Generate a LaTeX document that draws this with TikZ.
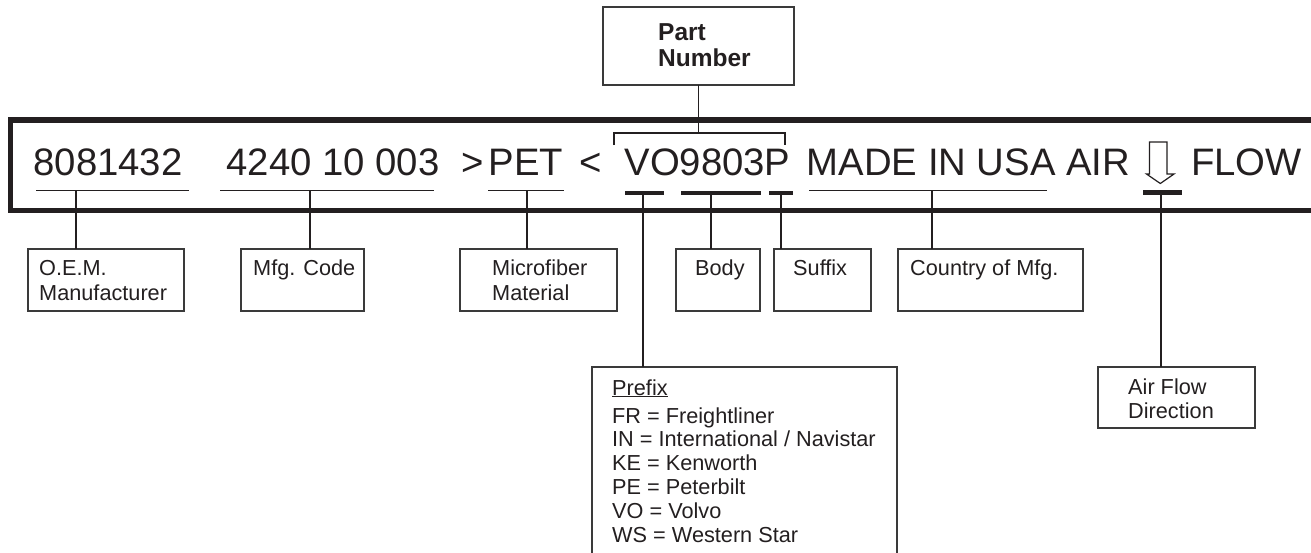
\documentclass[tikz,border=0pt]{standalone}
\usepackage{fontspec}
\setmainfont{Liberation Sans}
\definecolor{ink}{HTML}{231F20}
\definecolor{boxgray}{HTML}{3A3A3A}
\begin{document}
\begin{tikzpicture}[x=1pt,y=-1pt,
  box/.style={draw=boxgray,line width=1.3pt,inner sep=0pt,outer sep=0pt},
  lbl/.style={anchor=base west,inner sep=0pt,text=ink,font=\fontsize{21.7}{25}\selectfont},
  big/.style={anchor=base,inner sep=0pt,text=ink,font=\fontsize{38.3}{40}\selectfont},
  bold/.style={anchor=base west,inner sep=0pt,text=ink,font=\fontsize{24.5}{27}\selectfont\bfseries},
  band/.style={draw=ink,line width=5.3pt,line join=miter},
  uline/.style={draw=ink,line width=1pt},
  bar/.style={draw=ink,line width=4.4pt},
  conn/.style={draw=ink,line width=1.3pt}]
\useasboundingbox (0,0) rectangle (1311,552);

% main band
\draw[band] (1325,120) -- (10.8,120) -- (10.8,210.2) -- (1325,210.2);

% part number box
\node[box,minimum width=191pt,minimum height=78pt] (pn) at (698.5,46) {};
\node[bold] (pnA) at (658,40) {Part};
\node[bold] (pnB) at (658,66.7) {Number};
\coordinate (brkL) at (614,145);
\coordinate (brkR) at (785,145);
\coordinate (brkM) at (698.5,133);
\draw[conn] (brkL) -- (brkL |- brkM) -- (brkR |- brkM) -- (brkR);
\draw[conn] (pn.south) -- (brkM);

% band texts
\node[big] (t1) at (108,175) {8081432};
\node[big] (t2) at (333,175) {4240 10 003};
\node[big] (t3) at (473,175) {>};
\node[big] (t4) at (526,175) {PET};
\node[big] (t5) at (591,175) {<};
\node[big] (t6) at (707.5,175) {VO9803P};
\node[big] (t7) at (968.5,175) {MADE IN USA AIR};
\node[big] (t8) at (1246.5,175) {FLOW};

% hollow arrow
\draw[draw=ink,line width=1.2pt,line join=miter,fill=white]
  (1149.5,142) -- (1167,142) -- (1167,174) -- (1174,174) -- (1160.3,183.5)
  -- (1146.5,174) -- (1149.5,174) -- cycle;

% underlines and bars
\draw[uline] (36,190.7) -- (189,190.7);
\draw[uline] (220,190.7) -- (434,190.7);
\draw[uline] (488,190.7) -- (564,190.7);
\draw[uline] (809,190.7) -- (1047,190.7);
\draw[bar] (625,192.8) -- (664,192.8);
\draw[bar] (681,192.8) -- (761,192.8);
\draw[bar] (769,192.8) -- (793,192.8);
\draw[bar] (1143,192.3) -- (1182,192.3);

% boxes
\node[box,minimum width=156pt,minimum height=62pt] (oem) at (106,280) {};
\node[box,minimum width=123pt,minimum height=62pt] (mfg) at (302.5,280) {};
\node[box,minimum width=157pt,minimum height=62pt] (micro) at (538.5,280) {};
\node[box,minimum width=84pt,minimum height=62pt] (body) at (718,280) {};
\node[box,minimum width=97pt,minimum height=62pt] (suffix) at (822.5,280) {};
\node[box,minimum width=185pt,minimum height=62pt] (country) at (990.5,280) {};
\node[box,minimum width=157pt,minimum height=61pt] (air) at (1176.5,397.5) {};
\node[box,minimum width=305pt,minimum height=200pt] (prefix) at (744.5,467) {};

% stems
\coordinate (s1) at (76,190.7);
\coordinate (s2) at (310,190.7);
\coordinate (s3) at (527,190.7);
\coordinate (s4) at (643,194);
\coordinate (s5) at (711,194);
\coordinate (s6) at (781,194);
\coordinate (s7) at (932,190.7);
\coordinate (s8) at (1161,194);
\draw[conn] (s1) -- (s1 |- oem.north);
\draw[conn] (s2) -- (s2 |- mfg.north);
\draw[conn] (s3) -- (s3 |- micro.north);
\draw[conn] (s4) -- (s4 |- prefix.north);
\draw[conn] (s5) -- (s5 |- body.north);
\draw[conn] (s6) -- (s6 |- suffix.north);
\draw[conn] (s7) -- (s7 |- country.north);
\draw[conn] (s8) -- (s8 |- air.north);

% box labels
\node[lbl] (l1a) at (39,275) {O.E.M.};
\node[lbl] (l1b) at (39,300) {Manufacturer};
\node[lbl] (l2) at (253,275) {Mfg. Code};
\node[lbl] (l3a) at (492,275) {Microfiber};
\node[lbl] (l3b) at (492,300) {Material};
\node[lbl] (l4) at (695,275) {Body};
\node[lbl] (l5) at (793,275) {Suffix};
\node[lbl] (l6) at (910,275) {Country of Mfg.};
\node[lbl] (l7a) at (1128,394) {Air Flow};
\node[lbl] (l7b) at (1128,418) {Direction};

% prefix list
\node[lbl] (p0) at (612,395) {\underline{Prefix}};
\node[lbl] (p1) at (612,423) {FR = Freightliner};
\node[lbl] (p2) at (612,446.5) {IN = International / Navistar};
\node[lbl] (p3) at (612,470) {KE = Kenworth};
\node[lbl] (p4) at (612,494) {PE = Peterbilt};
\node[lbl] (p5) at (612,518) {VO = Volvo};
\node[lbl] (p6) at (612,542) {WS = Western Star};
\end{tikzpicture}
\end{document}
